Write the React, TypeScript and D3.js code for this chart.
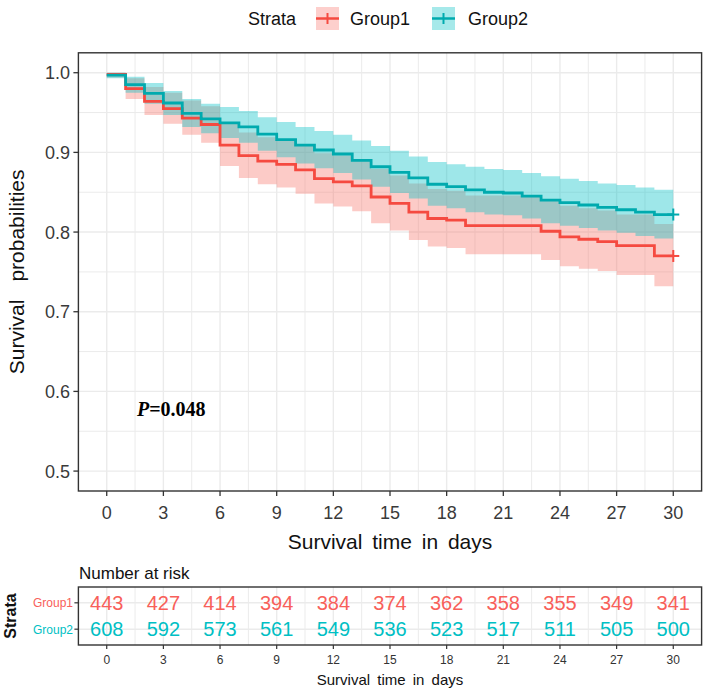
import React from "react";
import * as d3 from "d3";

// ---- data ----
const days = [0,1,2,3,4,5,6,7,8,9,10,11,12,13,14,15,16,17,18,19,20,21,22,23,24,25,26,27,28,29,30];
const group1Surv = [0.998,0.980,0.964,0.955,0.943,0.935,0.909,0.896,0.889,0.885,0.878,0.867,0.863,0.858,0.844,0.836,0.825,0.817,0.815,0.808,0.808,0.808,0.808,0.801,0.794,0.791,0.788,0.783,0.783,0.770,0.770];
const group1Lower = [0.994,0.967,0.947,0.936,0.922,0.912,0.883,0.868,0.860,0.856,0.848,0.836,0.832,0.826,0.811,0.802,0.790,0.782,0.780,0.772,0.772,0.772,0.772,0.765,0.757,0.754,0.751,0.746,0.746,0.732,0.732];
const group1Upper = [1.000,0.993,0.982,0.975,0.965,0.958,0.936,0.925,0.919,0.915,0.909,0.899,0.896,0.891,0.879,0.871,0.861,0.854,0.852,0.846,0.846,0.846,0.846,0.839,0.833,0.830,0.827,0.822,0.822,0.810,0.810];
const group2Surv = [0.997,0.985,0.974,0.962,0.949,0.942,0.937,0.932,0.923,0.916,0.909,0.903,0.898,0.890,0.882,0.875,0.868,0.860,0.857,0.853,0.850,0.849,0.845,0.840,0.837,0.834,0.831,0.828,0.825,0.822,0.822];
const group2Lower = [0.993,0.975,0.961,0.947,0.932,0.924,0.918,0.912,0.902,0.894,0.886,0.880,0.874,0.866,0.857,0.849,0.842,0.833,0.830,0.825,0.822,0.821,0.817,0.811,0.808,0.805,0.802,0.799,0.795,0.792,0.792];
const group2Upper = [1.000,0.995,0.987,0.977,0.967,0.961,0.957,0.952,0.944,0.938,0.932,0.927,0.922,0.915,0.908,0.902,0.895,0.888,0.885,0.882,0.879,0.878,0.874,0.870,0.867,0.864,0.861,0.859,0.856,0.853,0.853];

const riskTimes = [0,3,6,9,12,15,18,21,24,27,30];
const group1Risk = [443,427,414,394,384,374,362,358,355,349,341];
const group2Risk = [608,592,573,561,549,536,523,517,511,505,500];

const yTicks = [0.5,0.6,0.7,0.8,0.9,1.0];
const strata = ["Group1","Group2"];
const pLabel = "=0.048";

const FONT = "'Liberation Sans', Arial, sans-serif";
const RED_LINE = "#F54A40";
const TEAL_LINE = "#00AAAE";
const RED_FILL = "#F8766D";
const TEAL_FILL = "#00BFC4";
const RED_TXT = "#F8605A";
const TEAL_TXT = "#00BFC4";

export default function App() {
  const W = 708, H = 691;
  const left = 78.4, right = 701.6, top = 52.8, bottom = 491;
  const x = d3.scaleLinear().domain([-1.5, 31.5]).range([left, right]);
  const y = d3.scaleLinear().domain([0.475, 1.025]).range([bottom, top]);

  const line = d3.line<number>().x((d, i) => x(days[i])).y((d) => y(d)).curve(d3.curveStepAfter);
  const area = (lo: number[], up: number[]) =>
    d3.area<number>().x((d, i) => x(days[i])).y0((d, i) => y(lo[i])).y1((d, i) => y(up[i])).curve(d3.curveStepAfter)(lo.map((v) => v)) || "";

  const majorX = d3.range(0, 31, 3);
  const minorX = majorX.slice(0, -1).map((v) => v + 1.5);
  const minorY = [0.55, 0.65, 0.75, 0.85, 0.95];

  // risk table
  const tTop = 587, tBottom = 645;
  const ty = d3.scalePoint().domain(["Group2", "Group1"]).range([tBottom, tTop]).padding(0.6);
  // padding in scalePoint is outer padding in step units
  const rowY = (g: string) => ty(g) as number;

  const cross = (cx: number, cy: number, color: string) => (
    <g stroke={color} strokeWidth={2}>
      <line x1={cx - 6} x2={cx + 6} y1={cy} y2={cy} />
      <line x1={cx} x2={cx} y1={cy - 6} y2={cy + 6} />
    </g>
  );

  return (
    <svg width={W} height={H} style={{ position: "absolute", left: 0, top: 0, background: "#fff" }} fontFamily={FONT}>
      <rect x={0} y={0} width={W} height={H} fill="#fff" />
      {/* Legend */}
      <text x={248} y={25} fontSize={18} fill="#111">Strata</text>
      <g>
        <rect x={316} y={7} width={23} height={23} fill={RED_FILL} fillOpacity={0.35} />
        <line x1={316} x2={339} y1={18.5} y2={18.5} stroke={RED_LINE} strokeWidth={2.5} />
        <line x1={327.5} x2={327.5} y1={13} y2={24} stroke={RED_LINE} strokeWidth={2} />
        <text x={350} y={25} fontSize={18} fill="#111">Group1</text>
        <rect x={432} y={7} width={23} height={23} fill={TEAL_FILL} fillOpacity={0.35} />
        <line x1={432} x2={455} y1={18.5} y2={18.5} stroke={TEAL_LINE} strokeWidth={2.5} />
        <line x1={443.5} x2={443.5} y1={13} y2={24} stroke={TEAL_LINE} strokeWidth={2} />
        <text x={468} y={25} fontSize={18} fill="#111">Group2</text>
      </g>

      {/* grid */}
      <g stroke="#EBEBEB">
        {minorX.map((v) => <line key={"mx" + v} x1={x(v)} x2={x(v)} y1={top} y2={bottom} strokeWidth={1} />)}
        {minorY.map((v) => <line key={"my" + v} x1={left} x2={right} y1={y(v)} y2={y(v)} strokeWidth={1} />)}
        {majorX.map((v) => <line key={"Mx" + v} x1={x(v)} x2={x(v)} y1={top} y2={bottom} strokeWidth={1.4} />)}
        {yTicks.map((v) => <line key={"My" + v} x1={left} x2={right} y1={y(v)} y2={y(v)} strokeWidth={1.4} />)}
      </g>

      {/* bands */}
      <path d={area(group1Lower, group1Upper)} fill={RED_FILL} fillOpacity={0.38} />
      <path d={area(group2Lower, group2Upper)} fill={TEAL_FILL} fillOpacity={0.38} />
      {/* curves */}
      <path d={line(group1Surv) || ""} fill="none" stroke={RED_LINE} strokeWidth={2.8} />
      <path d={line(group2Surv) || ""} fill="none" stroke={TEAL_LINE} strokeWidth={2.8} />
      {cross(x(30), y(group1Surv[30]), RED_LINE)}
      {cross(x(30), y(group2Surv[30]), TEAL_LINE)}

      {/* border */}
      <rect x={left} y={top} width={right - left} height={bottom - top} fill="none" stroke="#333" strokeWidth={1.4} />

      {/* y axis */}
      {yTicks.map((v) => (
        <g key={"yt" + v}>
          <line x1={left - 5} x2={left} y1={y(v)} y2={y(v)} stroke="#333" strokeWidth={1.3} />
          <text x={70} y={y(v) + 6.5} fontSize={18} textAnchor="end" fill="#3a3a3a">{v.toFixed(1)}</text>
        </g>
      ))}
      <text transform={`translate(24,${(top + bottom) / 2}) rotate(-90)`} fontSize={21} textAnchor="middle" fill="#111">
        Survival<tspan dx={18}>probabilities</tspan>
      </text>

      {/* x axis */}
      {majorX.map((v) => (
        <g key={"xt" + v}>
          <line x1={x(v)} x2={x(v)} y1={bottom} y2={bottom + 5} stroke="#333" strokeWidth={1.3} />
          <text x={x(v)} y={519} fontSize={18} textAnchor="middle" fill="#3a3a3a">{v}</text>
        </g>
      ))}
      <text x={(left + right) / 2} y={549} fontSize={21} textAnchor="middle" fill="#111" wordSpacing={4}>Survival time in days</text>

      {/* p value */}
      <text x={137} y={y(0.578) + 7} fontSize={20} fontFamily="'Liberation Serif', 'Times New Roman', serif" fontWeight="bold" fill="#000">
        <tspan fontStyle="italic">P</tspan>{pLabel}
      </text>

      {/* risk table */}
      <text x={79} y={579} fontSize={17} fill="#111">Number at risk</text>
      <g stroke="#EBEBEB">
        {minorX.map((v) => <line key={"tmx" + v} x1={x(v)} x2={x(v)} y1={tTop} y2={tBottom} strokeWidth={1} />)}
        {majorX.map((v) => <line key={"tMx" + v} x1={x(v)} x2={x(v)} y1={tTop} y2={tBottom} strokeWidth={1.4} />)}
        {strata.map((g) => <line key={"tr" + g} x1={left} x2={right} y1={rowY(g)} y2={rowY(g)} strokeWidth={1.4} />)}
      </g>
      <rect x={left} y={tTop} width={right - left} height={tBottom - tTop} fill="none" stroke="#333" strokeWidth={1.4} />
      {riskTimes.map((t, i) => (
        <g key={"rk" + t}>
          <text x={x(t)} y={rowY("Group1") + 7} fontSize={20} textAnchor="middle" fill={RED_TXT}>{group1Risk[i]}</text>
          <text x={x(t)} y={rowY("Group2") + 7} fontSize={20} textAnchor="middle" fill={TEAL_TXT}>{group2Risk[i]}</text>
          <line x1={x(t)} x2={x(t)} y1={tBottom} y2={tBottom + 4} stroke="#333" strokeWidth={1.2} />
          <text x={x(t)} y={664} fontSize={12} textAnchor="middle" fill="#333">{t}</text>
        </g>
      ))}
      {strata.map((g) => (
        <g key={"lab" + g}>
          <line x1={left - 4} x2={left} y1={rowY(g)} y2={rowY(g)} stroke="#333" strokeWidth={1.2} />
          <text x={73} y={rowY(g) + 4.5} fontSize={12} textAnchor="end" fill={g === "Group1" ? RED_TXT : TEAL_TXT}>{g}</text>
        </g>
      ))}
      <text transform={`translate(16,${(tTop + tBottom) / 2}) rotate(-90)`} fontSize={16} fontWeight="bold" textAnchor="middle" fill="#111">Strata</text>
      <text x={(left + right) / 2} y={685} fontSize={15} textAnchor="middle" fill="#111" wordSpacing={3}>Survival time in days</text>
    </svg>
  );
}
